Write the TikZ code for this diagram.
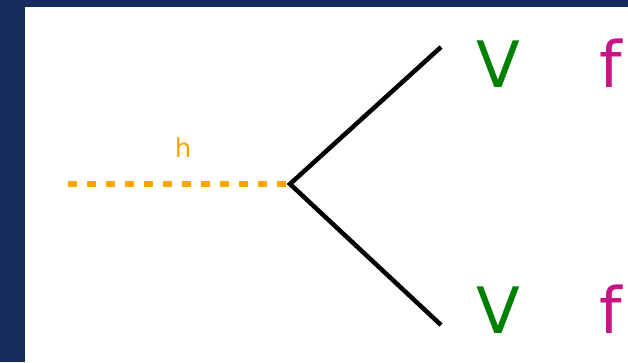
\documentclass[tikz,border=0pt]{standalone}
\usepackage{fontspec}
\setmainfont{DejaVu Sans}
\definecolor{navy}{RGB}{23,44,92}
\definecolor{higgs}{RGB}{255,165,0}
\definecolor{boson}{RGB}{0,128,0}
\definecolor{fermion}{RGB}{199,21,133}

\begin{document}
\begin{tikzpicture}[
  x=1pt, y=-1pt,
  every node/.style={inner sep=0pt},
  scalar/.style={draw=higgs, line width=5.5pt, dash pattern=on 8.5pt off 10.5pt},
  vector/.style={draw=black, line width=4.5pt},
  big/.style={font=\fontsize{64}{70}\selectfont},
  small/.style={font=\fontsize{26}{30}\selectfont}]

  % ---- frame ---------------------------------------------------------------
  \clip (0,0) rectangle (628,362);
  \fill[navy] (0,0) rectangle (628,362);
  \fill[white] (25,7) rectangle (640,370);

  % ---- vertices ------------------------------------------------------------
  \coordinate (hin) at (68,184);
  \coordinate (vtx) at (290,184);
  \coordinate (top) at (441,47);
  \coordinate (bot) at (441,325);

  % ---- lines ---------------------------------------------------------------
  \draw[scalar] (hin) -- (vtx);
  \draw[vector, line join=miter] (top) -- (vtx) -- (bot);

  % ---- labels --------------------------------------------------------------
  \node[small, text=higgs, anchor=base] (hlab) at (183,157) {h};
  \node[big, text=boson, anchor=base] (V1) at (498,87)  {V};
  \node[big, text=boson, anchor=base] (V2) at (498,333) {V};
  \node[big, text=fermion, anchor=base west] (f1) at (599,87)  {f};
  \node[big, text=fermion, anchor=base west] (f2) at (599,333) {f};
\end{tikzpicture}
\end{document}
